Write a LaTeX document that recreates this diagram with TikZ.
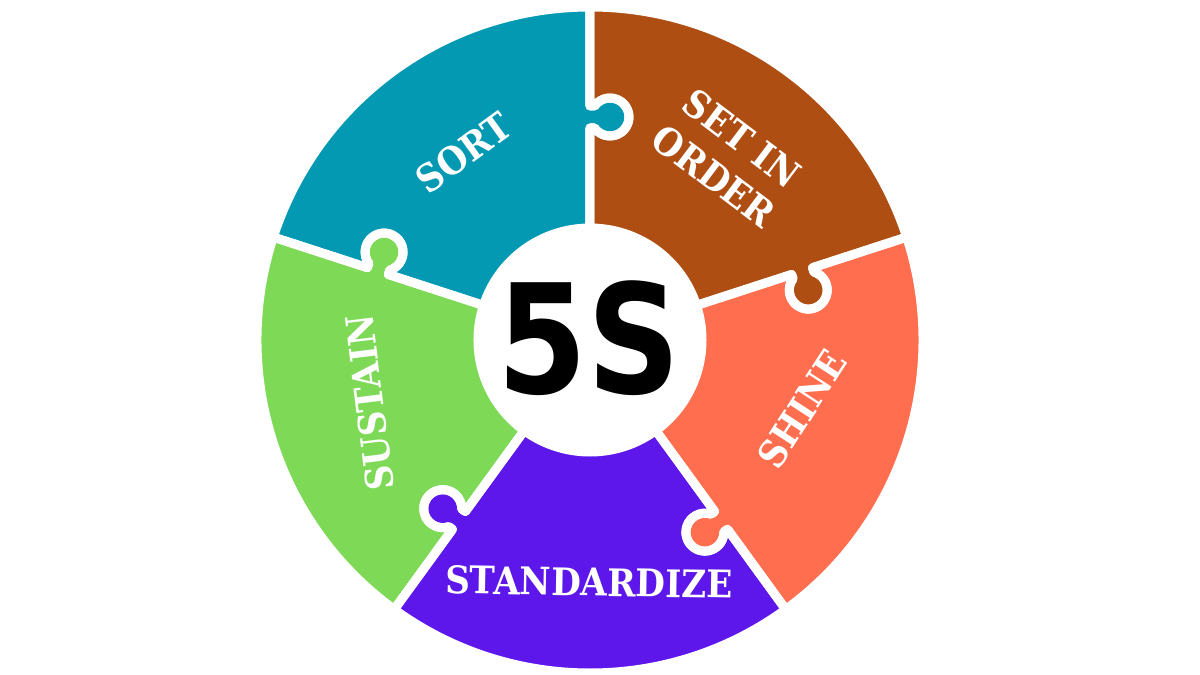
\documentclass[tikz,border=0pt]{standalone}
\usepackage{fontspec}
\usepackage{tikz}
\usetikzlibrary{calc}

\newfontfamily\slabfont{DejaVu Serif Condensed}
\newfontfamily\blockfont{DejaVu Sans}

\definecolor{sortcol}{HTML}{0399B3}
\definecolor{ordercol}{HTML}{AE4E13}
\definecolor{shinecol}{HTML}{FF6E4E}
\definecolor{standcol}{HTML}{5E17EB}
\definecolor{sustcol}{HTML}{7ED957}

% one piece of the ring, from 0 to 72 degrees, knob at 0, notch at 72
\newcommand{\piecepath}{(112,0) -- (212,0) -- (212,-4.51)
    arc[start angle=125.38, end angle=414.62, radius=19] -- (234,0) -- (333,0)
    arc[start angle=0, end angle=72, radius=333] -- ([rotate=72]234,0) -- ([rotate=72]234,-4.51)
    arc[start angle=486.62, end angle=197.38, radius=19] -- ([rotate=72]212,0) -- (72:112)
    arc[start angle=72, end angle=0, radius=112] -- cycle}

\begin{document}
\begin{tikzpicture}[x=1pt, y=1pt,
        gap_style/.style={draw=white, line width=9pt, line join=round},
        label_style/.style={text=white, font=\slabfont\bfseries\fontsize{38}{47}\selectfont},
        core_style/.style={text=black, font=\blockfont\bfseries\fontsize{152}{152}\selectfont, xscale=0.85}]
        
        \useasboundingbox (-590,-335) rectangle (610,340);
    
        \fill [sortcol, rotate=90] \piecepath;
    
        \fill [ordercol, rotate=18] \piecepath;
    
        \fill [shinecol, rotate=-54] \piecepath;
    
        \fill [standcol, rotate=-126] \piecepath;
    
        \fill [sustcol, rotate=162] \piecepath;
    
        \draw [gap_style, rotate=90] \piecepath;
    
        \draw [gap_style, rotate=18] \piecepath;
    
        \draw [gap_style, rotate=-54] \piecepath;
    
        \draw [gap_style, rotate=-126] \piecepath;
    
        \draw [gap_style, rotate=162] \piecepath;
    
        \node [core_style](core) at (-1,2) {5S};
    
        \node [label_style, rotate=36](sort) at (124:226) {SORT};
    
        \node [label_style, rotate=-37, align=center](order) at (53:229) {SET IN\\ORDER};
    
        \node [label_style, rotate=57](shine) at (-18:223) {SHINE};
    
        \node [label_style, rotate=-1](stand) at (-1,-242) {STANDARDIZE};
    
        \node [label_style, rotate=97](sustain) at (196:229) {SUSTAIN};
    
        \end{tikzpicture}
\end{document}
